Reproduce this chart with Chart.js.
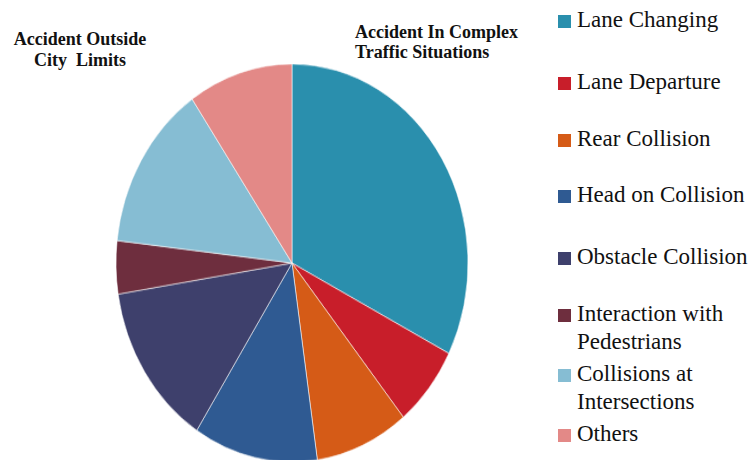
<!DOCTYPE html>
<html>
<head>
<meta charset="utf-8">
<script src="https://cdn.jsdelivr.net/npm/chart.js@4/dist/chart.umd.min.js"></script>
<style>
  html, body { margin:0; padding:0; background:#fff; width:749px; height:460px; overflow:hidden; }
  #pieWrap { position:absolute; left:112px; top:83px; width:360px; height:360px;
             transform: scaleY(1.1307); transform-origin: 180px 180px; }
  .title { position:absolute; font-family:"Liberation Serif", serif; font-weight:bold; font-size:18px; color:#111; line-height:21px; white-space:nowrap; }
  .leg { position:absolute; left:558px; font-family:"Liberation Serif", serif; font-size:23px; line-height:28px; color:#111; width:191px; }
  .leg .sw { position:absolute; left:0; width:13px; height:13px; }
  .leg .tx { position:absolute; left:19px; width:172px; }
</style>
</head>
<body>
<div class="title" id="t1" style="left:13px; top:29px; text-align:center; width:134px;">Accident Outside<br>City&nbsp; Limits</div>
<div class="title" id="t2" style="left:355px; top:22px; line-height:20px;">Accident In Complex<br>Traffic Situations</div>
<div id="pieWrap"><canvas id="c" width="360" height="360"></canvas></div>
<div id="legend"></div>
<script>
const categories = ["Lane Changing", "Lane Departure", "Rear Collision", "Head on Collision",
                    "Obstacle Collision", "Interaction with Pedestrians", "Collisions at Intersections", "Others"];
const shares = [32.5, 6.6, 8.6, 11.4, 13.4, 4.3, 13.6, 9.6];
const colors = ["#2A8FAD", "#C81E2A", "#D55B17", "#2F5A92", "#3E406C", "#6E2E3E", "#86BDD3", "#E38987"];

new Chart(document.getElementById('c'), {
  type: 'pie',
  data: {
    labels: categories,
    datasets: [{ data: shares, backgroundColor: colors, borderColor: 'rgba(255,255,255,0.55)', borderWidth: 1, hoverOffset: 0 }]
  },
  options: {
    responsive: false,
    animation: false,
    radius: 176,
    layout: { padding: 0 },
    plugins: { legend: { display: false }, tooltip: { enabled: false } }
  }
});

// HTML legend built from the same arrays
const legendTops = [6, 68, 125, 181, 243, 300, 360, 420];
const legend = document.getElementById('legend');
categories.forEach((name, i) => {
  const row = document.createElement('div');
  row.className = 'leg';
  row.style.top = legendTops[i] + 'px';
  const sw = document.createElement('div');
  sw.className = 'sw';
  sw.style.background = colors[i];
  sw.style.top = '9px';
  const tx = document.createElement('div');
  tx.className = 'tx';
  tx.textContent = name;
  row.appendChild(sw);
  row.appendChild(tx);
  legend.appendChild(row);
});
</script>
</body>
</html>
